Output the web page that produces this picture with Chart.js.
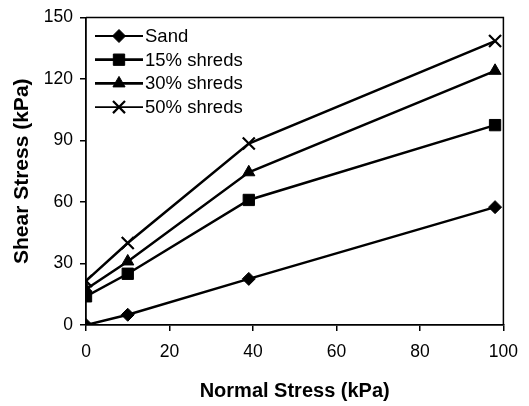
<!DOCTYPE html>
<html>
<head>
<meta charset="utf-8">
<script src="https://cdn.jsdelivr.net/npm/chart.js@4/dist/chart.umd.min.js"></script>
<style>
html,body{margin:0;padding:0;background:#fff;}
#wrap{width:529px;height:406px;}
</style>
</head>
<body>
<div id="wrap"><canvas id="c" width="529" height="406"></canvas></div>
<script>
const normalStress = [0, 10, 39, 98];
const sand = [0, 5, 22.5, 57.5];
const shreds15 = [14, 25, 61, 97.5];
const shreds30 = [17.5, 31, 74.5, 124];
const shreds50 = [21.5, 40, 88.5, 138.5];
const seriesLabels = ['Sand', '15% shreds', '30% shreds', '50% shreds'];
const xTicks = [0, 20, 40, 60, 80, 100];
const yTicks = [0, 30, 60, 90, 120, 150];

const FONT = '"Liberation Sans", Arial, Helvetica, sans-serif';

function pts(ys){ return normalStress.map((x,i)=>({x:x,y:ys[i]})); }

const styles = [
  {pointStyle:'rectRot', radius:6.5, bw:1, lw:2.5, legendLw:1.8},
  {pointStyle:'rect', radius:8, bw:1, lw:2.5, legendLw:2.8},
  {pointStyle:'triangle', radius:7, bw:1, lw:2.5, legendLw:2.8},
  {pointStyle:'crossRot', radius:8.5, bw:2.2, lw:2.5, legendLw:1.8}
];
const allSeries = [sand, shreds15, shreds30, shreds50];

const datasets = allSeries.map((s,i)=>({
  label: seriesLabels[i],
  data: pts(s),
  showLine: true,
  borderColor:'#000',
  backgroundColor:'#000',
  borderWidth: styles[i].lw,
  pointStyle: styles[i].pointStyle,
  pointRadius: styles[i].radius,
  pointBorderWidth: styles[i].bw,
  pointBorderColor:'#000',
  pointBackgroundColor:'#000',
  legendLineWidth: styles[i].legendLw
}));

const frame = {
  id:'frame',
  afterDatasetsDraw(chart){
    const a = chart.chartArea, ctx = chart.ctx;
    ctx.save();
    ctx.strokeStyle='#000'; ctx.lineWidth=1.5;
    ctx.beginPath();
    ctx.moveTo(a.left, a.top); ctx.lineTo(a.right, a.top); ctx.lineTo(a.right, a.bottom);
    ctx.stroke();
    ctx.restore();
  }
};

const insideLegend = {
  id:'insideLegend',
  afterDatasetsDraw(chart){
    const ctx = chart.ctx;
    const a = chart.chartArea;
    const x0 = a.left + 9, x1 = a.left + 57, xm = a.left + 33, xt = a.left + 59;
    const rowY0 = 36, rowStep = 23.7;
    ctx.save();
    chart.data.datasets.forEach((ds,i)=>{
      const y = rowY0 + i*rowStep;
      ctx.strokeStyle='#000';
      ctx.lineWidth = ds.legendLineWidth;
      ctx.beginPath(); ctx.moveTo(x0,y); ctx.lineTo(x1,y); ctx.stroke();
      ctx.fillStyle='#000';
      ctx.lineWidth = ds.pointBorderWidth;
      Chart.helpers.drawPoint(ctx, {pointStyle: ds.pointStyle, radius: ds.pointRadius, borderWidth: ds.pointBorderWidth}, xm, y);
      ctx.font = '18.5px ' + FONT;
      ctx.textBaseline='middle'; ctx.textAlign='left';
      ctx.fillText(ds.label, xt, y+1);
    });
    ctx.restore();
  }
};

new Chart(document.getElementById('c'), {
  type:'scatter',
  data:{datasets:datasets},
  options:{
    responsive:false,
    animation:false,
    devicePixelRatio:1,
    layout:{padding:{top:17, right:20, left:0, bottom:0}},
    plugins:{legend:{display:false}, tooltip:{enabled:false}},
    scales:{
      x:{
        type:'linear', min:0, max:100,
        afterBuildTicks(s){ s.ticks = xTicks.map(v=>({value:v})); },
        afterFit(s){ s.height = 81; },
        ticks:{color:'#000', font:{family:FONT, size:17.5}, padding:11, maxRotation:0},
        grid:{display:true, drawOnChartArea:false, drawTicks:true, tickLength:6, color:'#000', lineWidth:1.5},
        border:{display:true, color:'#000', width:1.8},
        title:{display:true, text:'Normal Stress (kPa)', color:'#000', font:{family:FONT, size:20, weight:'bold'}, padding:{top:0,bottom:3}}
      },
      y:{
        type:'linear', min:0, max:150,
        afterBuildTicks(s){ s.ticks = yTicks.map(v=>({value:v})); },
        afterFit(s){ s.width = 86; },
        ticks:{color:'#000', font:{family:FONT, size:17.5}, padding:7},
        grid:{display:true, drawOnChartArea:false, drawTicks:true, tickLength:6, color:'#000', lineWidth:1.5},
        border:{display:true, color:'#000', width:1.8},
        title:{display:true, text:'Shear Stress (kPa)', color:'#000', font:{family:FONT, size:21, weight:'bold'}, padding:{top:10,bottom:0}}
      }
    }
  },
  plugins:[frame, insideLegend]
});
</script>
</body>
</html>
